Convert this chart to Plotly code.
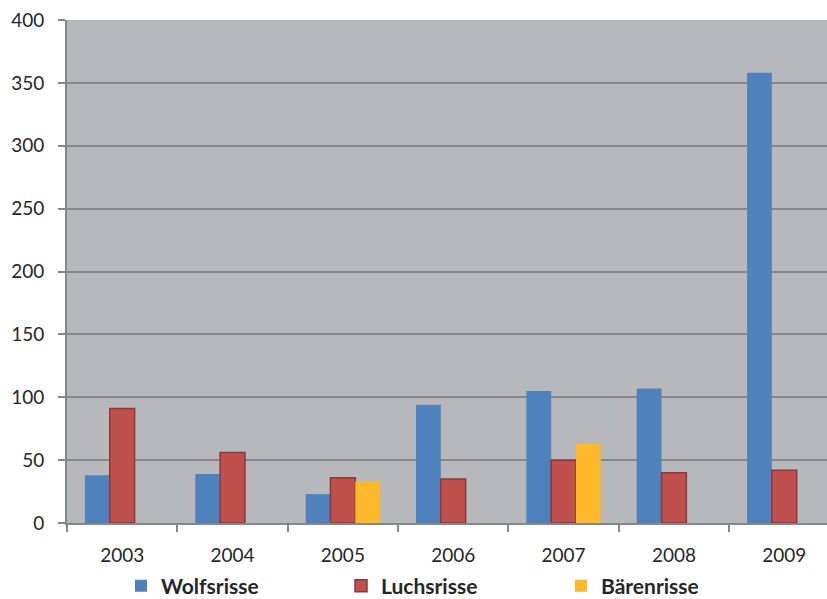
import plotly.graph_objects as go

years = ["2003", "2004", "2005", "2006", "2007", "2008", "2009"]
wolf = [38, 39, 23, 94, 105, 107, 358]
luchs = [91, 56, 36, 35, 50, 40, 42]
baer = [None, None, 33, None, 63, None, None]

y_ticks = [0, 50, 100, 150, 200, 250, 300, 350, 400]

FONT = "Lato"
TXT = "#262626"
GRID = "#878787"

fig = go.Figure()
fig.add_trace(go.Bar(name="Wolfsrisse", x=years, y=wolf,
                     marker=dict(color="#4f81bd", line=dict(width=0))))
fig.add_trace(go.Bar(name="Luchsrisse", x=years, y=luchs,
                     marker=dict(color="#c0504d", line=dict(color="#8c3836", width=1.5))))
fig.add_trace(go.Bar(name="Bärenrisse", x=years, y=baer,
                     marker=dict(color="#fdb92b", line=dict(width=0))))

fig.update_layout(
    width=827, height=599,
    margin=dict(l=67, r=0, t=20, b=76, autoexpand=False),
    paper_bgcolor="white",
    plot_bgcolor="#b7b8bc",
    barmode="group",
    bargap=0.325,
    bargroupgap=0,
    font=dict(family=FONT, size=19, color=TXT),
    showlegend=True,
    legend=dict(
        orientation="h",
        xref="container", yref="container",
        x=121 / 827, xanchor="left",
        y=1 - 586 / 599, yanchor="middle",
        entrywidth=175, entrywidthmode="pixels",
        font=dict(family=FONT, size=21, color=TXT, weight="bold"),
        bgcolor="rgba(0,0,0,0)",
        traceorder="normal",
    ),
    xaxis=dict(
        type="category",
        range=[-0.5, 6.387],
        showgrid=False,
        showline=True, linecolor=GRID, linewidth=2,
        ticks="outside", tickson="boundaries", ticklen=7, tickwidth=2, tickcolor=GRID,
        ticklabelstandoff=14,
        tickfont=dict(family=FONT, size=19, color=TXT),
        fixedrange=True,
    ),
    yaxis=dict(
        range=[0, 400],
        tickvals=y_ticks,
        showgrid=True, gridcolor=GRID, gridwidth=2,
        zeroline=False,
        showline=True, linecolor=GRID, linewidth=2,
        ticks="outside", ticklen=7, tickwidth=2, tickcolor=GRID,
        ticklabelstandoff=10,
        tickfont=dict(family=FONT, size=19, color=TXT),
        fixedrange=True,
    ),
)

fig.write_html("out.html")
